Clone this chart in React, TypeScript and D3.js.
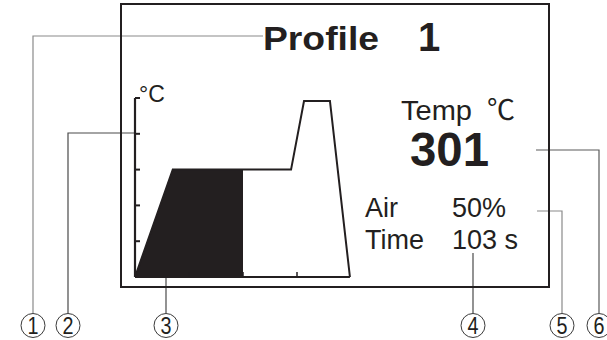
import React from "react";
import * as d3 from "d3";

// Profile curve (time in s, temperature in °C)
const profileTime = [0, 70, 289, 313, 361, 398];
const profileTemp = [0, 180, 180, 295, 295, 0];
const progressTime = 200;
const yTicks = [0, 60, 120, 180, 240, 300];
const xTicks = [100, 200, 300];

const titleLabel = "Profile";
const profileNumber = "1";
const tempLabel = "Temp";
const tempUnit = "℃";
const tempValue = "301";
const airLabel = "Air";
const airValue = "50%";
const timeLabel = "Time";
const timeValue = "103 s";
const calloutLabels = ["1", "2", "3", "4", "5", "6"];

const INK = "#231f20";
const FONT = "'Liberation Sans', Arial, 'Noto Sans CJK SC', sans-serif";

export default function App() {
  const x = d3.scaleLinear().domain([0, 400]).range([135, 351]);
  const y = d3.scaleLinear().domain([0, 300]).range([277, 98]);
  const pts: [number, number][] = profileTime.map((t, i) => [t, profileTemp[i]]);
  const line = d3
    .line<[number, number]>()
    .x((d) => x(d[0]))
    .y((d) => y(d[1]));
  const area = d3
    .area<[number, number]>()
    .x((d) => x(d[0]))
    .y0(y(0))
    .y1((d) => y(d[1]));

  // callout geometry: circle centers and leader paths
  const cy = 325.5;
  const r = 12;
  const callouts = [
    { cx: 33, path: "M263,36 H33 V313", color: "#8a8a8a" },
    { cx: 68, path: "M135,133 H68 V313", color: "#4a4a4a" },
    { cx: 166, path: "M166,277 V313", color: "#4a4a4a" },
    { cx: 473, path: "M473,253 V313", color: "#4a4a4a" },
    { cx: 562, path: "M537,211 H562 V313", color: "#8a8a8a" },
    { cx: 599, path: "M536,150 H599 V313", color: "#5a5a5a" },
  ];

  return (
    <div style={{ position: "absolute", left: 0, top: 0 }}>
      <svg width={607} height={340} style={{ display: "block", background: "#fff" }} fontFamily={FONT}>
        <defs>
          <clipPath id="prog">
            <rect x={x(0) - 2} y={0} width={x(progressTime) - x(0) + 2} height={340} />
          </clipPath>
        </defs>
        {/* callout leaders */}
        {callouts.map((c, i) => (
          <path key={"l" + i} d={c.path} fill="none" stroke={c.color} strokeWidth={1.2} />
        ))}
        {/* display frame */}
        <rect x={121} y={4} width={428} height={283} fill="none" stroke={INK} strokeWidth={2} />
        {/* filled progress */}
        <path d={area(pts) || ""} fill={INK} clipPath="url(#prog)" />
        {/* profile line */}
        <path d={line(pts) || ""} fill="none" stroke={INK} strokeWidth={2} />
        {/* axes */}
        <line x1={x(0)} x2={x(0)} y1={y(300)} y2={y(0)} stroke={INK} strokeWidth={2.2} />
        <line x1={x(0)} x2={x(398)} y1={y(0)} y2={y(0)} stroke={INK} strokeWidth={2.2} />
        {yTicks.slice(1).map((t) => (
          <line key={"yt" + t} x1={x(0)} x2={x(0) + 5} y1={y(t)} y2={y(t)} stroke={INK} strokeWidth={2} />
        ))}
        {xTicks.map((t) => (
          <line key={"xt" + t} x1={x(t)} x2={x(t)} y1={y(0)} y2={y(0) - 5} stroke={INK} strokeWidth={1.5} />
        ))}
        {/* texts */}
        <text x={139} y={102} fontSize={23} fill={INK}>°C</text>
        <text x={263} y={50} fontSize={34} fontWeight="bold" fill={INK} textLength={116} lengthAdjust="spacingAndGlyphs">
          {titleLabel}
        </text>
        <text x={418} y={51} fontSize={40} fontWeight="bold" fill={INK}>{profileNumber}</text>
        <text x={401} y={120} fontSize={28} fill={INK} textLength={71} lengthAdjust="spacingAndGlyphs">
          {tempLabel}
        </text>
        <text x={515} y={120} fontSize={28} fill={INK} textAnchor="end">{tempUnit}</text>
        <text x={410} y={166} fontSize={48} fontWeight="bold" fill={INK} textLength={79} lengthAdjust="spacingAndGlyphs">
          {tempValue}
        </text>
        <text x={365} y={217} fontSize={27} fill={INK}>{airLabel}</text>
        <text x={452} y={217} fontSize={27} fill={INK}>{airValue}</text>
        <text x={365} y={249} fontSize={27} fill={INK}>{timeLabel}</text>
        <text x={452} y={249} fontSize={27} fill={INK}>{timeValue}</text>
        {/* callout circles */}
        {callouts.map((c, i) => (
          <g key={"c" + i}>
            <circle cx={c.cx} cy={cy} r={r} fill="#fff" stroke="#3a3a3a" strokeWidth={1} />
            <text
              x={c.cx - 5.5}
              y={cy + 8}
              fontSize={23}
              fill={INK}
              textLength={11}
              lengthAdjust="spacingAndGlyphs"
            >
              {calloutLabels[i]}
            </text>
          </g>
        ))}
      </svg>
    </div>
  );
}
